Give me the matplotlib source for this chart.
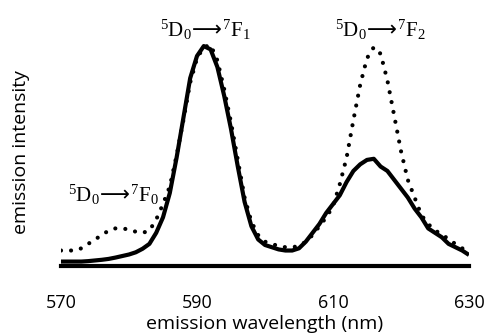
import numpy as np
import matplotlib
matplotlib.use("Agg")
import matplotlib.pyplot as plt

# emission spectra (normalised to the 5D0->7F1 peak)
wavelength = np.arange(570, 631)
solid = [0.02, 0.02, 0.02, 0.02, 0.022, 0.025, 0.028, 0.032, 0.038, 0.045,
         0.052, 0.062, 0.078, 0.10, 0.15, 0.22, 0.33, 0.49, 0.67, 0.85,
         0.95, 0.995, 0.98, 0.90, 0.77, 0.62, 0.45, 0.29, 0.18, 0.12,
         0.095, 0.085, 0.075, 0.07, 0.07, 0.08, 0.11, 0.15, 0.19, 0.24,
         0.28, 0.32, 0.38, 0.43, 0.46, 0.48, 0.485, 0.45, 0.43, 0.39,
         0.35, 0.31, 0.26, 0.22, 0.17, 0.15, 0.13, 0.10, 0.085, 0.07, 0.05]
dotted = [0.07, 0.07, 0.07, 0.08, 0.10, 0.12, 0.14, 0.16, 0.17, 0.17,
          0.165, 0.155, 0.15, 0.16, 0.21, 0.28, 0.36, 0.50, 0.66, 0.83,
          0.94, 0.99, 1.0, 0.93, 0.80, 0.65, 0.48, 0.31, 0.20, 0.14,
          0.11, 0.10, 0.09, 0.085, 0.085, 0.09, 0.11, 0.14, 0.18, 0.22,
          0.27, 0.37, 0.49, 0.66, 0.82, 0.94, 0.99, 0.96, 0.84, 0.68,
          0.52, 0.39, 0.31, 0.23, 0.19, 0.16, 0.145, 0.12, 0.10, 0.08, 0.065]

xticks = [570, 590, 610, 630]
labels = [r"$^{5}\mathrm{D}_{0}\!\mathsf{\longrightarrow}\!{}^{7}\mathrm{F}_{0}$",
          r"$^{5}\mathrm{D}_{0}\!\mathsf{\longrightarrow}\!{}^{7}\mathrm{F}_{1}$",
          r"$^{5}\mathrm{D}_{0}\!\mathsf{\longrightarrow}\!{}^{7}\mathrm{F}_{2}$"]
label_x = [577.7, 591.2, 617.0]
label_y = [0.265, 1.015, 1.015]

plt.rcParams["mathtext.fontset"] = "custom"
plt.rcParams["mathtext.rm"] = "Liberation Serif"
plt.rcParams["mathtext.sf"] = "DejaVu Sans"
plt.rcParams["mathtext.default"] = "rm"

fig = plt.figure(figsize=(4.86, 3.35), dpi=100)
ax = fig.add_axes([0.1255, 0.206, 0.8395, 0.764])

ax.plot(wavelength, dotted, color="black", lw=3, linestyle=(0, (0.01, 2.4)),
        dash_capstyle="round")
ax.plot(wavelength, solid, color="black", lw=3, solid_capstyle="butt")

for t, x, y in zip(labels, label_x, label_y):
    ax.text(x, y, t, ha="center", va="bottom", fontsize=15)

ax.set_xlim(570, 630)
ax.set_ylim(0, 1.158)
ax.set_xticks(xticks)
ax.set_yticks([])
for s in ["top", "right", "left"]:
    ax.spines[s].set_visible(False)
ax.spines["bottom"].set_linewidth(3)
ax.tick_params(axis="x", length=0, pad=20, labelsize=13)
for lab in ax.get_xticklabels():
    lab.set_family("Open Sans")
ax.set_xlabel("emission wavelength (nm)", fontsize=14, family="Open Sans", labelpad=2)
ax.set_ylabel("emission intensity", fontsize=14, family="Open Sans")
ax.yaxis.set_label_coords(-0.075, 0.445)

plt.savefig("out.png", dpi=100)
plt.close()
